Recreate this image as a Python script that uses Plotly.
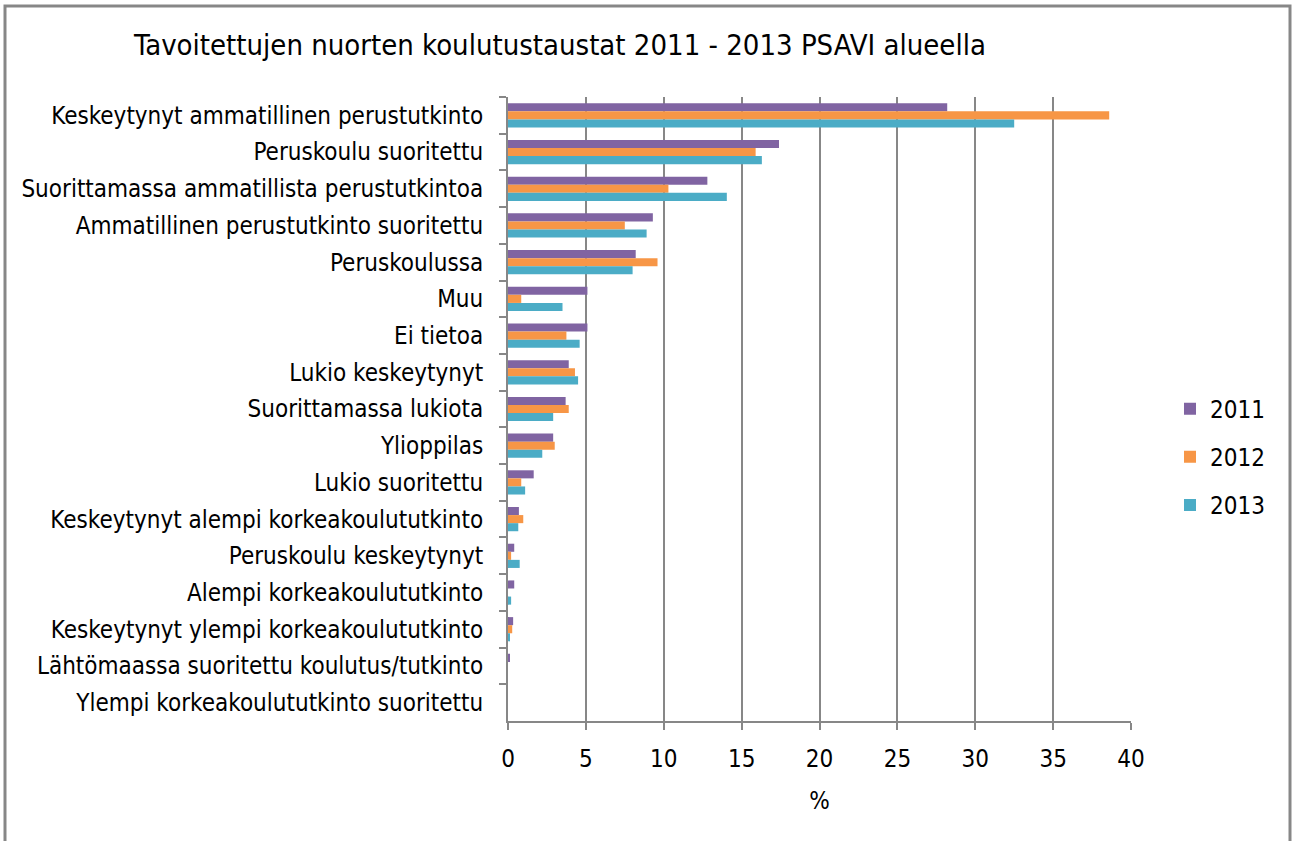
import plotly.graph_objects as go

categories = [
    "Keskeytynyt ammatillinen perustutkinto",
    "Peruskoulu suoritettu",
    "Suorittamassa ammatillista perustutkintoa",
    "Ammatillinen perustutkinto suoritettu",
    "Peruskoulussa",
    "Muu",
    "Ei tietoa",
    "Lukio keskeytynyt",
    "Suorittamassa lukiota",
    "Ylioppilas",
    "Lukio suoritettu",
    "Keskeytynyt alempi korkeakoulututkinto",
    "Peruskoulu keskeytynyt",
    "Alempi korkeakoulututkinto",
    "Keskeytynyt ylempi korkeakoulututkinto",
    "Lähtömaassa suoritettu koulutus/tutkinto",
    "Ylempi korkeakoulututkinto suoritettu",
]

v2011 = [28.2, 17.4, 12.8, 9.3, 8.2, 5.1, 5.1, 3.9, 3.7, 2.9, 1.65, 0.7, 0.4, 0.4, 0.33, 0.1, 0.0]
v2012 = [38.6, 15.9, 10.3, 7.5, 9.6, 0.85, 3.75, 4.3, 3.9, 3.0, 0.85, 0.98, 0.2, 0.0, 0.27, 0.0, 0.0]
v2013 = [32.5, 16.3, 14.05, 8.9, 8.0, 3.5, 4.6, 4.5, 2.9, 2.2, 1.1, 0.66, 0.75, 0.2, 0.13, 0.0, 0.0]

series = [("2011", v2011, "#8064A2"), ("2012", v2012, "#F79646"), ("2013", v2013, "#4BACC6")]

FONT = "DejaVu Sans Condensed, Liberation Sans Narrow, sans-serif"
GRAY = "#878787"

fig = go.Figure()
for name, vals, col in series:
    fig.add_trace(go.Bar(
        y=categories, x=vals, name=name, orientation="h",
        marker=dict(color=col, line=dict(width=0)),
        legendgroup=name,
    ))

fig.update_layout(
    width=1292, height=841,
    margin=dict(l=508, r=161, t=97, b=120, autoexpand=False),
    paper_bgcolor="white", plot_bgcolor="white",
    barmode="group", bargap=0.34, bargroupgap=0,
    font=dict(family=FONT, size=24, color="black"),
    title=dict(
        text="Tavoitettujen nuorten koulutustaustat 2011 - 2013 PSAVI alueella",
        x=560 / 1292, xanchor="center", xref="container",
        y=1 - 45 / 841, yanchor="middle", yref="container",
        font=dict(family=FONT, size=29, color="black"),
    ),
    legend=dict(
        x=1.0626, xanchor="left", y=0.423, yanchor="middle",
        font=dict(family=FONT, size=24),
        traceorder="grouped", tracegroupgap=14,
        bgcolor="rgba(0,0,0,0)",
    ),
    xaxis=dict(
        range=[0, 40], dtick=5, tick0=0,
        showgrid=True, gridcolor=GRAY, gridwidth=2,
        showline=True, linecolor=GRAY, linewidth=2,
        ticks="outside", ticklen=7, tickcolor=GRAY, tickwidth=2,
        zeroline=False,
        ticklabelstandoff=8,
        title=dict(text="%", standoff=20, font=dict(family=FONT, size=24)),
        tickfont=dict(family=FONT, size=24),
    ),
    yaxis=dict(
        autorange="reversed",
        showline=True, linecolor=GRAY, linewidth=2,
        ticks="outside", ticklen=7, tickcolor=GRAY, tickwidth=2,
        tickson="boundaries", showgrid=False,
        ticklabelstandoff=18,
        tickfont=dict(family=FONT, size=24),
    ),
    showlegend=True,
)

fig.add_shape(
    type="rect", xref="paper", yref="paper",
    x0=(5 - 508) / 623, x1=(1290 - 508) / 623,
    y0=(721 - 880) / 624, y1=(721 - 6) / 624,
    line=dict(color=GRAY, width=3), fillcolor="rgba(0,0,0,0)", layer="below",
)

fig.write_html(
    "out.html",
    config={"displayModeBar": False},
    post_script="document.body.style.margin='0';",
)
